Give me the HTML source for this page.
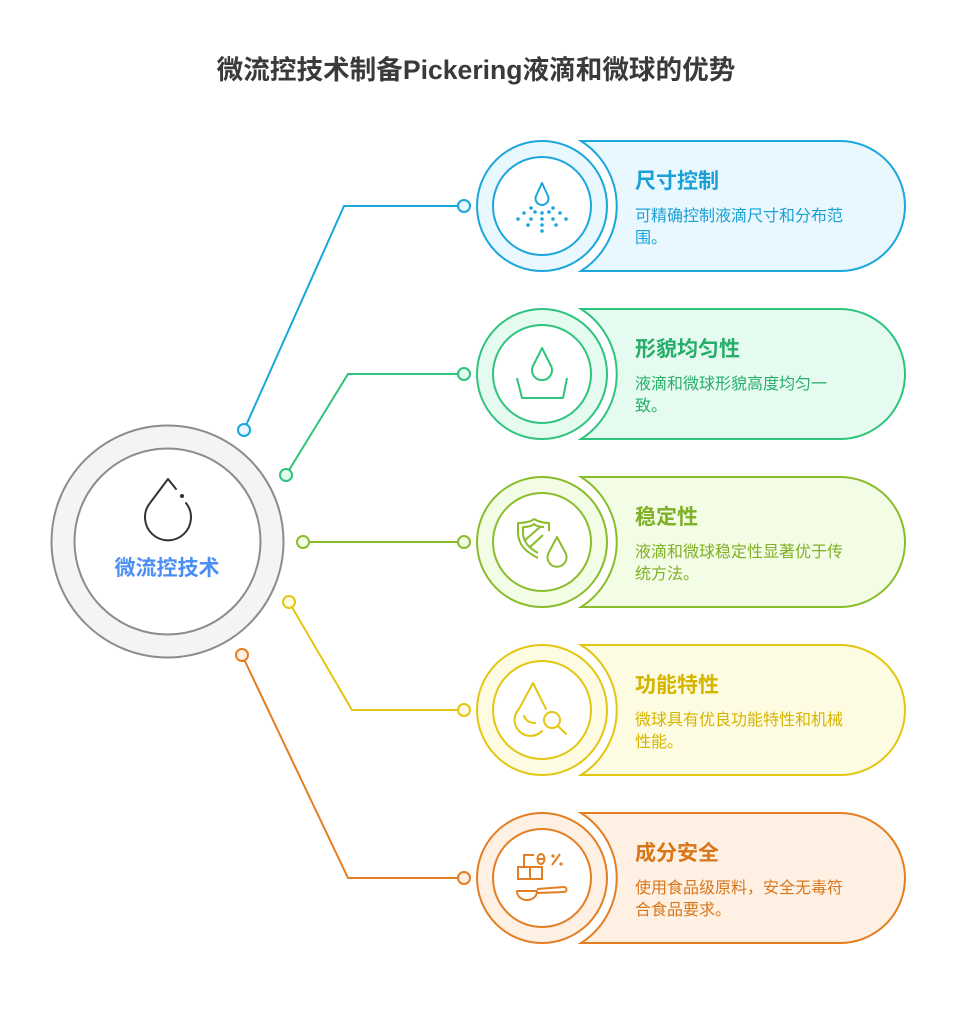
<!DOCTYPE html>
<html><head><meta charset="utf-8"><style>
html,body{margin:0;padding:0;background:#fff;}
svg{display:block;}
text{font-family:"Liberation Sans","Noto Sans CJK SC",sans-serif;}
</style></head><body>
<svg width="955" height="1026" viewBox="0 0 955 1026" xmlns="http://www.w3.org/2000/svg">
<text x="476" y="79" text-anchor="middle" font-size="26.6" font-weight="bold" fill="#3a3a3a">微流控技术制备Pickering液滴和微球的优势</text>

<!-- connectors -->
<g fill="none" stroke-width="2">
<polyline points="244,430 344,206 464,206" stroke="#1ba6dc"/>
<polyline points="286,475 348,374 464,374" stroke="#2fc47c"/>
<polyline points="303,542 464,542" stroke="#8abd2c"/>
<polyline points="289,602 352,710 464,710" stroke="#e3c611"/>
<polyline points="242,655 348,878 464,878" stroke="#e37e22"/>
</g>
<g stroke-width="2">
<circle cx="244" cy="430" r="6" fill="#e8f8fe" stroke="#1ba6dc"/>
<circle cx="464" cy="206" r="6" fill="#e8f8fe" stroke="#1ba6dc"/>
<circle cx="286" cy="475" r="6" fill="#e6fbf0" stroke="#2fc47c"/>
<circle cx="464" cy="374" r="6" fill="#e6fbf0" stroke="#2fc47c"/>
<circle cx="303" cy="542" r="6" fill="#f3fce4" stroke="#8abd2c"/>
<circle cx="464" cy="542" r="6" fill="#f3fce4" stroke="#8abd2c"/>
<circle cx="289" cy="602" r="6" fill="#fefbe3" stroke="#e3c611"/>
<circle cx="464" cy="710" r="6" fill="#fefbe3" stroke="#e3c611"/>
<circle cx="242" cy="655" r="6" fill="#fef1e4" stroke="#e37e22"/>
<circle cx="464" cy="878" r="6" fill="#fef1e4" stroke="#e37e22"/>
</g>

<!-- center -->
<circle cx="167.5" cy="541.5" r="116" fill="#f4f4f4" stroke="#8c8c8c" stroke-width="2"/>
<circle cx="167.5" cy="541.5" r="93" fill="#fff" stroke="#8c8c8c" stroke-width="2"/>
<path d="M176,489 L168,479 L150,503 A23 23 0 1 0 186,503" fill="none" stroke="#333" stroke-width="2" stroke-linejoin="round" stroke-linecap="round"/>
<circle cx="182" cy="496" r="2" fill="#333"/>
<text x="167" y="575" text-anchor="middle" font-size="21" font-weight="bold" fill="#4b8ef5">微流控技术</text>

<!-- card 1 -->
<g stroke="#1ba6dc" stroke-width="2">
<path d="M581,141 L840,141 A65 65 0 0 1 840,271 L581,271 A77 77 0 0 0 581,141 Z" fill="#e8f8fe"/>
<circle cx="542" cy="206" r="65" fill="#e8f8fe"/>
<circle cx="542" cy="206" r="49" fill="#fff"/>
<path d="M542,183 L536.5,195 A6.5 6.5 0 1 0 547.5,195 Z" fill="none" stroke-linejoin="round"/>
</g>
<g fill="#1ba6dc">
<circle cx="531" cy="208" r="1.8"/><circle cx="553" cy="208" r="1.8"/>
<circle cx="524" cy="213" r="1.8"/><circle cx="535" cy="212" r="1.8"/><circle cx="542" cy="213" r="1.8"/><circle cx="549" cy="212" r="1.8"/><circle cx="560" cy="213" r="1.8"/>
<circle cx="518" cy="219" r="1.8"/><circle cx="531" cy="219" r="1.8"/><circle cx="542" cy="219" r="1.8"/><circle cx="553" cy="219" r="1.8"/><circle cx="566" cy="219" r="1.8"/>
<circle cx="528" cy="225" r="1.8"/><circle cx="542" cy="225" r="1.8"/><circle cx="556" cy="225" r="1.8"/>
<circle cx="542" cy="231" r="1.8"/>
</g>
<text x="635" y="188" font-size="21" font-weight="bold" fill="#1a9fd6">尺寸控制</text>
<text x="635" y="221" font-size="16" fill="#1a9fd6">可精确控制液滴尺寸和分布范</text>
<text x="635" y="243" font-size="16" fill="#1a9fd6">围。</text>

<!-- card 2 -->
<g stroke="#2fc47c" stroke-width="2">
<path d="M581,309 L840,309 A65 65 0 0 1 840,439 L581,439 A77 77 0 0 0 581,309 Z" fill="#e6fbf0"/>
<circle cx="542" cy="374" r="65" fill="#e6fbf0"/>
<circle cx="542" cy="374" r="49" fill="#fff"/>
<path d="M542,348 L532.5,367 A10 10 0 1 0 551.5,367 Z" fill="none" stroke-linejoin="round"/>
<polyline points="517,378 522,398 563,398 567,378" fill="none" stroke-linejoin="round"/>
</g>
<text x="635" y="356" font-size="21" font-weight="bold" fill="#27ae6a">形貌均匀性</text>
<text x="635" y="389" font-size="16" fill="#27ae6a">液滴和微球形貌高度均匀一</text>
<text x="635" y="411" font-size="16" fill="#27ae6a">致。</text>

<!-- card 3 -->
<g stroke="#8abd2c" stroke-width="2">
<path d="M581,477 L840,477 A65 65 0 0 1 840,607 L581,607 A77 77 0 0 0 581,477 Z" fill="#f3fce4"/>
<circle cx="542" cy="542" r="65" fill="#f3fce4"/>
<circle cx="542" cy="542" r="49" fill="#fff"/>
<path d="M538,558 C526,552 518,545 518,532 L518,523 C526,523 532,521 534,519 C537,521 543,523 549,523 L549,531" fill="none" stroke-linejoin="round"/>
<path d="M538,553 C529,548 523,542 523,533 L523,527 C528,527 532,526 534,524 C536,526 540,527 544,527" fill="none" stroke-linejoin="round"/>
<line x1="524" y1="541" x2="540" y2="527"/>
<line x1="529" y1="548" x2="543" y2="535"/>
<path d="M557,537 L548.5,553 A9.5 9.5 0 1 0 565.5,553 Z" fill="none" stroke-linejoin="round"/>
</g>
<text x="635" y="524" font-size="21" font-weight="bold" fill="#7fb027">稳定性</text>
<text x="635" y="557" font-size="16" fill="#7fb027">液滴和微球稳定性显著优于传</text>
<text x="635" y="579" font-size="16" fill="#7fb027">统方法。</text>

<!-- card 4 -->
<g stroke="#e3c611" stroke-width="2">
<path d="M581,645 L840,645 A65 65 0 0 1 840,775 L581,775 A77 77 0 0 0 581,645 Z" fill="#fefbe3"/>
<circle cx="542" cy="710" r="65" fill="#fefbe3"/>
<circle cx="542" cy="710" r="49" fill="#fff"/>
<path d="M546,709 L533,683 L519,709 A14 14 0 0 0 542,731" fill="none" stroke-linejoin="round" stroke-linecap="round"/>
<path d="M524,716 C526,721 530,723 535,723" fill="none" stroke-linecap="round"/>
<circle cx="552" cy="720" r="8" fill="none"/>
<line x1="558" y1="726" x2="566" y2="734" stroke-linecap="round"/>
</g>
<text x="635" y="692" font-size="21" font-weight="bold" fill="#d4b500">功能特性</text>
<text x="635" y="725" font-size="16" fill="#d4b500">微球具有优良功能特性和机械</text>
<text x="635" y="747" font-size="16" fill="#d4b500">性能。</text>

<!-- card 5 -->
<g stroke="#e37e22" stroke-width="2">
<path d="M581,813 L840,813 A65 65 0 0 1 840,943 L581,943 A77 77 0 0 0 581,813 Z" fill="#fef1e4"/>
<circle cx="542" cy="878" r="65" fill="#fef1e4"/>
<circle cx="542" cy="878" r="49" fill="#fff"/>
<path d="M524,867 L524,855 L534,855" fill="none"/>
<rect x="518" y="867" width="12" height="12" fill="none"/>
<rect x="530" y="867" width="12" height="12" fill="none"/>
<line x1="530" y1="867" x2="536" y2="867"/>
<ellipse cx="541" cy="859" rx="3.5" ry="5" fill="none"/>
<line x1="538" y1="859" x2="544" y2="859"/>
<line x1="552" y1="865" x2="560" y2="854"/>
<path d="M517,891 L537,891 C537,897 532,900 527,900 C522,900 517,897 517,891 Z" fill="none" stroke-linejoin="round"/>
<path d="M537,889 L564,887 A2 2 0 0 1 564,892 L537,893" fill="none" stroke-linejoin="round"/>
</g>
<g fill="#e37e22">
<circle cx="553" cy="856" r="1.6"/><circle cx="561" cy="864" r="1.6"/>
</g>
<text x="635" y="860" font-size="21" font-weight="bold" fill="#d9761c">成分安全</text>
<text x="635" y="893" font-size="16" fill="#d9761c">使用食品级原料，安全无毒符</text>
<text x="635" y="915" font-size="16" fill="#d9761c">合食品要求。</text>
</svg>
</body></html>
